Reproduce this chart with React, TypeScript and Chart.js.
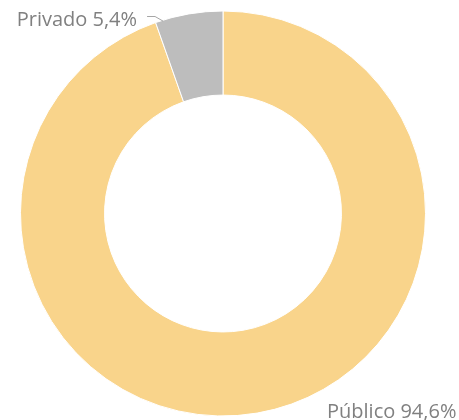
import React, { useEffect, useRef } from "react";
import { Chart, registerables } from "chart.js";

Chart.register(...registerables);

const categories = ["Público", "Privado"];
const values = [94.6, 5.4];
const valueLabels = ["94,6%", "5,4%"];
const colors = ["#F9D48B", "#BDBDBD"];

const labelPlugin = {
  id: "outerLabels",
  afterDatasetsDraw(chart: any) {
    const meta = chart.getDatasetMeta(0);
    const ctx = chart.ctx;
    ctx.save();
    ctx.font = '20px "Open Sans"';
    ctx.fillStyle = "#808080";
    ctx.strokeStyle = "#A6A6A6";
    ctx.lineWidth = 1;
    // Público label (bottom right)
    const a0 = meta.data[0];
    ctx.textAlign = "left";
    ctx.textBaseline = "alphabetic";
    ctx.fillText(categories[0] + " " + valueLabels[0], a0.x + 104, a0.y + a0.outerRadius + 1.5);
    // Privado label (top left) with leader line
    const a1 = meta.data[1];
    const ang = a1.startAngle + 0.11 * (a1.endAngle - a1.startAngle);
    const px = a1.x + Math.cos(ang) * (a1.outerRadius - 1);
    const py = a1.y + Math.sin(ang) * (a1.outerRadius - 1);
    const ly = a1.y - a1.outerRadius + 5.5;
    ctx.beginPath();
    ctx.moveTo(px, py);
    ctx.lineTo(px - 8, ly);
    ctx.lineTo(px - 16, ly);
    ctx.stroke();
    ctx.textAlign = "right";
    ctx.fillText(categories[1] + " " + valueLabels[1], px - 26, a1.y - a1.outerRadius + 15);
    ctx.restore();
  },
};

export default function App() {
  const ref = useRef<HTMLCanvasElement>(null);
  useEffect(() => {
    if (!ref.current) return;
    const chart = new Chart(ref.current, {
      type: "doughnut",
      data: {
        labels: categories,
        datasets: [
          {
            data: values,
            backgroundColor: colors,
            borderColor: "#FFFFFF",
            borderWidth: 1,
          },
        ],
      },
      options: {
        animation: false,
        responsive: false,
        cutout: "58.5%",
        layout: { padding: { left: 20, right: 33, top: 10.5, bottom: 3.5 } },
        plugins: { legend: { display: false }, tooltip: { enabled: false } },
      },
      plugins: [labelPlugin],
    });
    return () => chart.destroy();
  }, []);
  return (
    <div style={{ position: "fixed", left: 0, top: 0, width: 459, height: 420, background: "#fff" }}>
      <canvas ref={ref} width={459} height={420} style={{ width: 459, height: 420 }} />
    </div>
  );
}
